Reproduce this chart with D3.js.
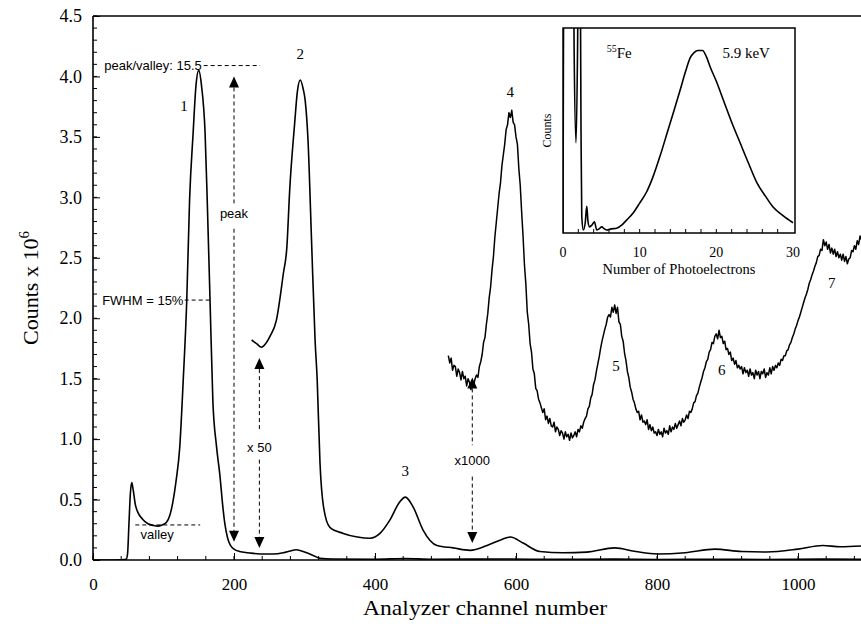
<!DOCTYPE html>
<html><head><meta charset="utf-8">
<script src="https://cdn.jsdelivr.net/npm/d3@7"></script>
<style>body{margin:0;background:#fff}svg{display:block}</style>
</head><body><svg id="c" width="861" height="624"></svg>
<script>
// ---------------- data ----------------
const xTickValues = [0, 200, 400, 600, 800, 1000];
const yTickValues = [0, 0.5, 1.0, 1.5, 2.0, 2.5, 3.0, 3.5, 4.0, 4.5];

// main spectrum (x1)  [channel, counts x 1e6]
const mainSpectrum = [[0,0],[20,0],[40,0.002],[47,0.005],[49,0.05],[51,0.3],[53,0.55],[55,0.64],[57,0.58],[60,0.46],[64,0.39],[70,0.34],[78,0.30],[86,0.285],[92,0.28],[98,0.29],[104,0.31],[109,0.37],[113,0.47],[118,0.66],[123,0.93],[128,1.49],[133,2.15],[137,2.98],[142,3.53],[146,3.92],[150,4.05],[154,3.92],[159,3.53],[162,2.98],[166,2.15],[170,1.32],[175,0.95],[180,0.7],[184,0.45],[187,0.3],[191,0.18],[195,0.12],[200,0.09],[208,0.07],[220,0.06],[237,0.05],[255,0.05],[270,0.06],[280,0.075],[288,0.085],[296,0.075],[305,0.055],[313,0.035],[322,0.015],[340,0.008],[400,0.006],[443,0.012],[480,0.006],[592,0.008],[650,0.005],[740,0.007],[800,0.004],[887,0.006],[950,0.004],[1036,0.007],[1100,0.006]];

// x50 spectrum
const x50Spectrum = [[225,1.82],[232,1.79],[239,1.76],[245,1.79],[251,1.85],[260,1.98],[270,2.37],[275,2.59],[279,3.06],[286,3.61],[290,3.88],[294,3.97],[298,3.90],[301,3.80],[305,3.47],[310,2.64],[315,1.82],[318,1.49],[322,0.80],[327,0.44],[336,0.27],[355,0.22],[375,0.19],[393,0.18],[407,0.22],[421,0.33],[435,0.48],[443,0.52],[454,0.44],[468,0.25],[488,0.12],[511,0.10],[535,0.08],[559,0.12],[580,0.17],[592,0.19],[610,0.14],[634,0.07],[667,0.06],[700,0.065],[740,0.10],[770,0.07],[800,0.05],[840,0.06],[882,0.09],[920,0.07],[956,0.066],[1000,0.09],[1035,0.12],[1060,0.11],[1100,0.12]];

// x1000 spectrum (noisy)
const x1000Spectrum = [[504,1.69],[506,1.63],[508,1.67],[510,1.57],[512,1.61],[514,1.60],[516,1.52],[518,1.58],[520,1.55],[522,1.49],[524,1.56],[526,1.50],[528,1.52],[530,1.44],[532,1.50],[534,1.47],[536,1.41],[538,1.48],[540,1.45],[542,1.50],[544,1.53],[546,1.51],[548,1.60],[550,1.64],[552,1.70],[554,1.80],[556,1.84],[558,1.95],[560,2.04],[562,2.17],[564,2.26],[566,2.40],[568,2.51],[570,2.67],[572,2.79],[574,2.91],[576,3.03],[578,3.12],[580,3.26],[582,3.35],[584,3.44],[586,3.56],[588,3.60],[590,3.70],[592,3.66],[594,3.72],[596,3.62],[598,3.60],[600,3.50],[602,3.44],[604,3.24],[606,3.10],[608,2.88],[610,2.68],[612,2.44],[614,2.28],[616,2.05],[618,1.95],[620,1.79],[622,1.72],[624,1.58],[626,1.54],[628,1.42],[630,1.40],[632,1.33],[634,1.30],[636,1.26],[638,1.22],[640,1.25],[642,1.16],[644,1.19],[646,1.13],[648,1.17],[650,1.11],[652,1.10],[654,1.14],[656,1.06],[658,1.10],[660,1.08],[662,1.03],[664,1.07],[666,1.05],[668,1.00],[670,1.06],[672,1.02],[674,1.04],[676,0.99],[678,1.05],[680,1.01],[682,1.03],[684,1.06],[686,1.02],[688,1.08],[690,1.06],[692,1.11],[694,1.09],[696,1.14],[698,1.17],[700,1.19],[702,1.25],[704,1.27],[706,1.34],[708,1.37],[710,1.45],[712,1.49],[714,1.56],[716,1.62],[718,1.68],[720,1.75],[722,1.81],[724,1.86],[726,1.91],[728,1.95],[730,2.01],[732,2.03],[734,2.01],[736,2.09],[738,2.05],[740,2.11],[742,2.04],[744,2.09],[746,1.97],[748,1.95],[750,1.85],[752,1.81],[754,1.71],[756,1.65],[758,1.56],[760,1.51],[762,1.43],[764,1.39],[766,1.33],[768,1.30],[770,1.25],[772,1.22],[774,1.23],[776,1.16],[778,1.20],[780,1.14],[782,1.15],[784,1.12],[786,1.16],[788,1.08],[790,1.12],[792,1.07],[794,1.10],[796,1.05],[798,1.06],[800,1.03],[802,1.08],[804,1.04],[806,1.06],[808,1.02],[810,1.09],[812,1.05],[814,1.07],[816,1.04],[818,1.11],[820,1.06],[822,1.10],[824,1.08],[826,1.13],[828,1.09],[830,1.12],[832,1.15],[834,1.11],[836,1.17],[838,1.14],[840,1.16],[842,1.20],[844,1.17],[846,1.23],[848,1.22],[850,1.25],[852,1.30],[854,1.31],[856,1.36],[858,1.38],[860,1.43],[862,1.47],[864,1.51],[866,1.56],[868,1.59],[870,1.64],[872,1.66],[874,1.72],[876,1.74],[878,1.80],[880,1.79],[882,1.85],[884,1.87],[886,1.83],[888,1.90],[890,1.84],[892,1.85],[894,1.79],[896,1.81],[898,1.74],[900,1.75],[902,1.70],[904,1.72],[906,1.65],[908,1.67],[910,1.62],[912,1.65],[914,1.59],[916,1.61],[918,1.58],[920,1.60],[922,1.54],[924,1.59],[926,1.55],[928,1.57],[930,1.52],[932,1.58],[934,1.53],[936,1.55],[938,1.50],[940,1.57],[942,1.53],[944,1.56],[946,1.50],[948,1.56],[950,1.54],[952,1.58],[954,1.51],[956,1.55],[958,1.53],[960,1.59],[962,1.54],[964,1.60],[966,1.57],[968,1.61],[970,1.59],[972,1.63],[974,1.61],[976,1.66],[978,1.65],[980,1.69],[982,1.69],[984,1.73],[986,1.74],[988,1.78],[990,1.80],[992,1.84],[994,1.87],[996,1.91],[998,1.94],[1000,1.98],[1002,2.01],[1004,2.05],[1006,2.09],[1008,2.13],[1010,2.17],[1012,2.20],[1014,2.24],[1016,2.29],[1018,2.32],[1020,2.36],[1022,2.39],[1024,2.43],[1026,2.46],[1028,2.51],[1030,2.52],[1032,2.57],[1034,2.56],[1036,2.65],[1038,2.60],[1040,2.63],[1042,2.57],[1044,2.61],[1046,2.54],[1048,2.58],[1050,2.53],[1052,2.57],[1054,2.51],[1056,2.55],[1058,2.50],[1060,2.53],[1062,2.48],[1064,2.53],[1066,2.47],[1068,2.51],[1070,2.45],[1072,2.49],[1074,2.50],[1076,2.56],[1078,2.55],[1080,2.60],[1082,2.57],[1084,2.64],[1086,2.61],[1088,2.68],[1090,2.65],[1092,2.71]];

// inset spectrum [photoelectrons, relative counts]
const insetSpectrum = [[0,0],[0.15,1.6],[1.3,1.6],[1.45,0.9],[1.7,0.44],[1.9,0.9],[2.05,1.6],[2.2,1.6],[2.35,0.5],[2.45,0.08],[2.65,0.015],[2.9,0.05],[3.1,0.13],[3.25,0.06],[3.45,0.03],[3.8,0.04],[4.1,0.055],[4.4,0.015],[4.7,0.02],[5.05,0.03],[5.4,0.02],[5.7,0.015],[6.3,0.02],[7.0,0.023],[7.7,0.04],[8.3,0.063],[9.2,0.1],[10.0,0.146],[10.9,0.2],[11.7,0.27],[12.7,0.38],[13.6,0.49],[14.5,0.6],[15.3,0.7],[16.0,0.79],[16.6,0.855],[17.1,0.88],[17.6,0.89],[18.2,0.89],[18.7,0.86],[19.2,0.81],[20.0,0.74],[20.9,0.65],[22.0,0.54],[23.1,0.44],[24.2,0.34],[25.3,0.245],[26.4,0.18],[27.4,0.127],[28.7,0.085],[30,0.05]];
const insetTickValues = [0, 10, 20, 30];
const insetMinorTicks = [2,4,6,8,12,14,16,18,22,24,26,28];

const peakLabels = [
  {t:"1", ch:129, v:3.76},{t:"2", ch:294, v:4.19},{t:"3", ch:443, v:0.735},
  {t:"4", ch:592, v:3.87},{t:"5", ch:742, v:1.61},{t:"6", ch:892, v:1.57},{t:"7", ch:1048, v:2.29}];

// vertical arrows: channel, bottom tip, top tip, label level, gap top, gap bottom
const arrows = [
  {t:"peak",  ch:200, v0:0.15, v1:4.00, vl:2.87, g1:2.95, g0:2.74},
  {t:"x 50",  ch:236, v0:0.10, v1:1.67, vl:0.93, g1:1.07, g0:0.83},
  {t:"x1000", ch:538, v0:0.14, v1:1.51, vl:0.82, g1:0.95, g0:0.69}];

// horizontal dashed annotation lines: [from channel, to channel, level]
const hLines = [[157,237,4.09],[130,166,2.15],[60,152,0.29]];
const hTexts = [
  {t:"peak/valley: 15.5", ch:16, v:4.09, a:"start"},
  {t:"FWHM = 15%", ch:13, v:2.15, a:"start"},
  {t:"valley", ch:91, v:0.21, a:"middle"}];

// ---------------- drawing ----------------
const svg = d3.select("#c");
const SERIF = "'Liberation Serif','Times New Roman',serif";
const SANS = "'Liberation Sans',Arial,Helvetica,sans-serif";
const L = 93, R = 861, T = 16, B = 560;
const x = d3.scaleLinear().domain([0, 1100]).range([L, L + 1100 * 0.705]);
const y = d3.scaleLinear().domain([0, 4.5]).range([B, T]);

const defs = svg.append("defs");
defs.append("clipPath").attr("id","pc")
  .append("rect").attr("x",L).attr("y",T).attr("width",R-L).attr("height",B-T);

// frame
svg.append("line").attr("x1",L).attr("x2",R).attr("y1",T).attr("y2",T).attr("stroke","#000").attr("stroke-width",1.6);

// y axis
const yMinor = d3.range(0, 4.51, 0.1).map(d => +d.toFixed(1));
const gy = svg.append("g").attr("transform",`translate(${L},0)`);
gy.selectAll("line.mn").data(yMinor).join("line").attr("x1",0).attr("x2",4)
  .attr("y1",d=>y(d)).attr("y2",d=>y(d)).attr("stroke","#000").attr("stroke-width",1);
const yAxis = d3.axisLeft(y).tickValues(yTickValues).tickSize(-7).tickPadding(11).tickFormat(d3.format(".1f"));
gy.call(yAxis);
gy.select(".domain").attr("stroke-width",1.6).attr("d",`M0,${B}V${T}`);
gy.selectAll(".tick line").attr("stroke-width",1);
gy.selectAll(".tick text").attr("font-family",SERIF).attr("font-size",18).attr("fill","#000");

// x axis
const xMinor = d3.range(0, 1100, 40);
const gx = svg.append("g").attr("transform",`translate(0,${B})`);
gx.selectAll("line.mn").data(xMinor).join("line").attr("x1",d=>x(d)).attr("x2",d=>x(d))
  .attr("y1",0).attr("y2",-4).attr("stroke","#000").attr("stroke-width",1);
const xAxis = d3.axisBottom(x).tickValues(xTickValues).tickSize(-7).tickPadding(18).tickFormat(d3.format("d"));
gx.call(xAxis);
gx.select(".domain").attr("stroke-width",1.6).attr("d",`M${L},0H${R}`);
gx.selectAll(".tick line").attr("stroke-width",1);
gx.selectAll(".tick text").attr("font-family",SERIF).attr("font-size",17).attr("fill","#000");

// axis titles
svg.append("text").attr("x",485).attr("y",615).attr("text-anchor","middle")
  .attr("font-family",SERIF).attr("font-size",22)
  .attr("textLength",244).attr("lengthAdjust","spacingAndGlyphs").text("Analyzer channel number");
const yt = svg.append("text").attr("transform",`translate(38,${(T+B)/2}) rotate(-90)`).attr("text-anchor","middle")
  .attr("font-family",SERIF).attr("font-size",22);
yt.append("tspan").text("Counts x 10");
yt.append("tspan").attr("dy",-9).attr("font-size",15).text("6");

// curves
const plot = svg.append("g").attr("clip-path","url(#pc)");
const smooth = d3.line().x(d=>x(d[0])).y(d=>y(d[1])).curve(d3.curveMonotoneX);
const lin = d3.line().x(d=>x(d[0])).y(d=>y(d[1]));
plot.append("path").attr("d",smooth(mainSpectrum)).attr("fill","none").attr("stroke","#000").attr("stroke-width",1.6);
plot.append("path").attr("d",smooth(x50Spectrum)).attr("fill","none").attr("stroke","#000").attr("stroke-width",1.6);
plot.append("path").attr("d",lin(x1000Spectrum)).attr("fill","none").attr("stroke","#000").attr("stroke-width",1.5).attr("stroke-linejoin","round");

// peak labels
svg.selectAll("text.pk").data(peakLabels).join("text")
  .attr("x",d=>x(d.ch)).attr("y",d=>y(d.v)).attr("dy","0.35em").attr("text-anchor","middle")
  .attr("font-family",SERIF).attr("font-size",15).text(d=>d.t);

// dashed horizontal lines and texts
svg.selectAll("line.hl").data(hLines).join("line")
  .attr("x1",d=>x(d[0])).attr("x2",d=>x(d[1])).attr("y1",d=>y(d[2])).attr("y2",d=>y(d[2]))
  .attr("stroke","#000").attr("stroke-width",1).attr("stroke-dasharray","4,3");
svg.selectAll("text.ht").data(hTexts).join("text")
  .attr("x",d=>x(d.ch)).attr("y",d=>y(d.v)).attr("dy","0.35em").attr("text-anchor",d=>d.a)
  .attr("font-family",SANS).attr("font-size",13).text(d=>d.t);

// arrows
const AW = 5, AH = 11;
arrows.forEach(a => {
  const cx = x(a.ch);
  const yb = y(a.v0), yt2 = y(a.v1);
  svg.append("line").attr("x1",cx).attr("x2",cx).attr("y1",yt2+AH).attr("y2",y(a.g1))
    .attr("stroke","#000").attr("stroke-width",1).attr("stroke-dasharray","4,3");
  svg.append("line").attr("x1",cx).attr("x2",cx).attr("y1",y(a.g0)).attr("y2",yb-AH)
    .attr("stroke","#000").attr("stroke-width",1).attr("stroke-dasharray","4,3");
  svg.append("path").attr("d",`M${cx},${yt2}L${cx-AW},${yt2+AH}L${cx+AW},${yt2+AH}Z`).attr("fill","#000");
  svg.append("path").attr("d",`M${cx},${yb}L${cx-AW},${yb-AH}L${cx+AW},${yb-AH}Z`).attr("fill","#000");
  svg.append("text").attr("x",cx).attr("y",y(a.vl)).attr("dy","0.35em").attr("text-anchor","middle")
    .attr("font-family",SANS).attr("font-size",13).text(a.t);
});

// ---------------- inset ----------------
const xi = d3.scaleLinear().domain([0,30]).range([563,793]);
const yi = d3.scaleLinear().domain([0,1]).range([233,28]);
const IL = 563, IR = 795, IT = 28, IB = 233;
svg.append("rect").attr("x",IL).attr("y",IT).attr("width",IR-IL).attr("height",IB-IT).attr("fill","#fff");
defs.append("clipPath").attr("id","ic")
  .append("rect").attr("x",IL).attr("y",IT).attr("width",IR-IL).attr("height",IB-IT);
const ig = svg.append("g");
ig.append("path").attr("clip-path","url(#ic)")
  .attr("d", d3.line().x(d=>xi(d[0])).y(d=>yi(d[1])).curve(d3.curveMonotoneX)(insetSpectrum))
  .attr("fill","none").attr("stroke","#000").attr("stroke-width",1.6).attr("stroke-linejoin","round");
ig.append("rect").attr("x",IL).attr("y",IT).attr("width",IR-IL).attr("height",IB-IT)
  .attr("fill","none").attr("stroke","#000").attr("stroke-width",1.5);
ig.selectAll("line.it").data(insetMinorTicks.concat([10,20])).join("line")
  .attr("x1",d=>xi(d)).attr("x2",d=>xi(d)).attr("y1",IB).attr("y2",IB-4).attr("stroke","#000").attr("stroke-width",1);
ig.selectAll("text.itl").data(insetTickValues).join("text")
  .attr("x",d=>xi(d)).attr("y",IB+24).attr("text-anchor","middle")
  .attr("font-family",SERIF).attr("font-size",14).text(d=>d);
ig.append("text").attr("x",(xi(0)+xi(30))/2+1).attr("y",IB+41).attr("text-anchor","middle")
  .attr("font-family",SERIF).attr("font-size",14.5).text("Number of Photoelectrons");
ig.append("text").attr("transform",`translate(${IL-16},${(IT+IB)/2}) rotate(-90)`).attr("dy","0.35em")
  .attr("text-anchor","middle").attr("font-family",SERIF).attr("font-size",12).text("Counts");
const fe = ig.append("text").attr("x",xi(5.7)).attr("y",yi(0.855)).attr("font-family",SERIF).attr("font-size",15);
fe.append("tspan").attr("font-size",10).attr("dy",-6).text("55");
fe.append("tspan").attr("dy",6).text("Fe");
ig.append("text").attr("x",xi(20.8)).attr("y",yi(0.855)).attr("font-family",SERIF).attr("font-size",15).text("5.9 keV");
</script></body></html>
